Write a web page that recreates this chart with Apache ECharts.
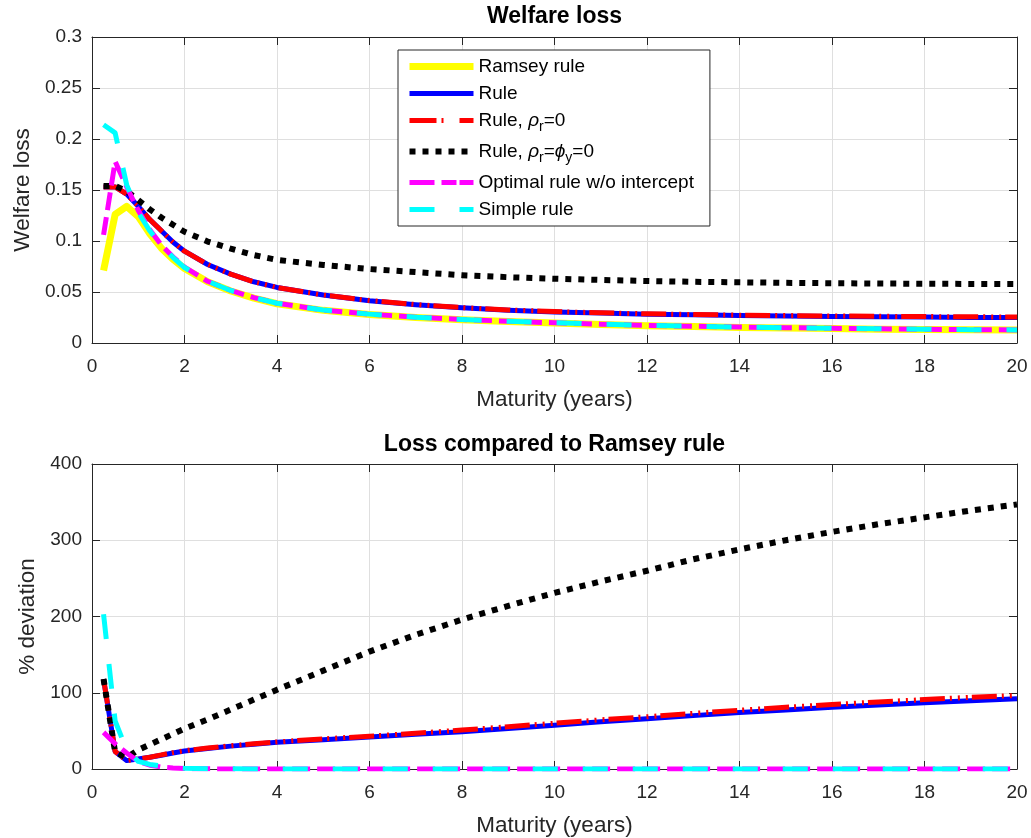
<!DOCTYPE html>
<html>
<head>
<meta charset="utf-8">
<script src="https://cdn.jsdelivr.net/npm/echarts@6/dist/echarts.min.js"></script>
<style>
html,body{margin:0;padding:0;background:#fff;}
#chart{width:1031px;height:838px;}
</style>
</head>
<body>
<div id="chart"></div>
<script>
// ---------- data ----------
const maturity = [0.25,0.5,0.75,1,1.25,1.5,1.75,2,2.5,3,3.5,4,5,6,7,8,9,10,11,12,13,14,15,16,17,18,19,20];

// Welfare loss (top panel)
const lossRamsey   = [0.071,0.126,0.134,0.124,0.107,0.093,0.082,0.073,0.060,0.051,0.044,0.0385,0.032,0.028,0.0250,0.0228,0.0210,0.0195,0.0182,0.0170,0.0161,0.0153,0.0147,0.0141,0.0136,0.0132,0.0130,0.0128];
const lossRule     = [0.153,0.153,0.146,0.134,0.121,0.110,0.099,0.090,0.077,0.0675,0.060,0.0545,0.0470,0.0415,0.0375,0.0345,0.0322,0.0305,0.0293,0.0283,0.0276,0.0270,0.0265,0.0261,0.0257,0.0254,0.0251,0.0249];
const lossRuleRho0 = [0.153,0.153,0.146,0.134,0.121,0.110,0.099,0.090,0.077,0.0675,0.060,0.0545,0.0470,0.0416,0.0377,0.0347,0.0324,0.0308,0.0296,0.0286,0.0279,0.0273,0.0269,0.0265,0.0262,0.0259,0.0257,0.0255];
const lossRuleRhoPhi0 = [0.154,0.154,0.149,0.140,0.131,0.123,0.116,0.109,0.0995,0.0925,0.0862,0.0815,0.0765,0.0725,0.0695,0.0665,0.0645,0.0630,0.0618,0.0608,0.0600,0.0595,0.0590,0.0586,0.0583,0.0581,0.0579,0.0578];
const lossOptNoInt = [0.106,0.178,0.153,0.130,0.111,0.096,0.0845,0.0745,0.0605,0.0515,0.0445,0.0390,0.0323,0.0283,0.0253,0.0231,0.0213,0.0198,0.0185,0.0173,0.0164,0.0156,0.0150,0.0144,0.0139,0.0135,0.0131,0.0128];
const lossSimple   = [0.214,0.206,0.155,0.128,0.110,0.095,0.084,0.074,0.0605,0.0515,0.0445,0.0390,0.0323,0.0283,0.0253,0.0231,0.0213,0.0198,0.0185,0.0173,0.0164,0.0156,0.0150,0.0144,0.0139,0.0135,0.0131,0.0128];

// % deviation from Ramsey (bottom panel)
const devRule        = [118,23,11,13,15.5,18,21,23.5,27,30,32.5,35,38.5,42,45.5,49,53,57.5,62,66,70,74,77.5,81,84,87,89.5,92];
const devRuleRho0    = [118,23,11,13,15.5,18.5,21.5,24,27.5,30.5,33,35.5,39.5,43,47,51,55.5,60,64.5,68.5,73,77,81,84.5,88,91,94,96.5];
const devRuleRhoPhi0 = [118,22,15,25,32,39,46,53,65,78,91,104,129,154,176,196,214,231,246,260,275,288,300,311,321,330,339,347];
const devOptNoInt    = [48,33,21,10,5,2.5,1.2,0.6,0.2,0.1,0,0,0,0,0,0,0,0,0,0,0,0,0,0,0,0,0,0];
const devSimple      = [203,63,25,10,6,4,2,1,0.4,0.2,0,0,0,0,0,0,0,0,0,0,0,0,0,0,0,0,0,0];

const topTicks = {min:0, max:0.3, interval:0.05};
const botTicks = {min:0, max:400, interval:100};
const xTicks   = {min:0, max:20, interval:2};

const names = ['Ramsey rule','Rule','Rule, rho_r=0','Rule, rho_r=phi_y=0','Optimal rule w/o intercept','Simple rule'];

// ---------- styles ----------
const FONT = 'Liberation Sans, Arial, Helvetica, sans-serif';
const AX = '#262626';
const GRID = '#dfdfdf';
const TICKFS = 19;
const NAMEFS = 22.5;
const styles = [
  {color:'#ffff00', width:7, type:'solid', legendType:'solid'},
  {color:'#0000ff', width:5, type:'solid', legendType:'solid'},
  {color:'#ff0000', width:5, type:[25,5,2,6,2,6,2,4], legendType:[27,5,2,16]},
  {color:'#000000', width:6, type:[6,7], legendType:[6,7]},
  {color:'#ff00ff', width:5, type:[18,7], legendType:[25,7,15,3,14,0]},
  {color:'#00ffff', width:5, type:[25,25], legendType:[25,25]}
];

function pairs(ys){ return maturity.map((x,i)=>[x, ys[i]]); }

function mkSeries(name, idx, ys, axisIdx){
  const s = styles[idx];
  return {
    type:'line', name:name, xAxisIndex:axisIdx, yAxisIndex:axisIdx,
    data:pairs(ys), showSymbol:false, symbol:'none', smooth:false,
    animation:false, clip:true,
    lineStyle:{color:s.color, width:s.width, type:s.type, cap:'butt', join:'round'},
    itemStyle:{color:s.color},
    emphasis:{disabled:true}
  };
}

function mainX(gridIndex){
  return {
    type:'value', gridIndex:gridIndex, position:'bottom', ...xTicks,
    name:'Maturity (years)', nameLocation:'middle', nameGap:45,
    nameTextStyle:{fontSize:NAMEFS, fontFamily:FONT, color:AX},
    axisLine:{show:true, onZero:false, lineStyle:{color:AX, width:1}},
    axisTick:{show:true, inside:true, length:8, lineStyle:{color:AX}},
    axisLabel:{show:true, fontSize:TICKFS, fontFamily:FONT, color:AX, margin:14},
    splitLine:{show:true, lineStyle:{color:GRID, width:1}}
  };
}
function mirrorX(gridIndex){
  return {
    type:'value', gridIndex:gridIndex, position:'top', ...xTicks,
    axisLine:{show:true, onZero:false, lineStyle:{color:AX, width:1}},
    axisTick:{show:true, inside:true, length:8, lineStyle:{color:AX}},
    axisLabel:{show:false}, splitLine:{show:false}
  };
}
function mainY(gridIndex, ticks, name, gap){
  return {
    type:'value', gridIndex:gridIndex, position:'left', ...ticks,
    name:name, nameLocation:'middle', nameGap:gap,
    nameTextStyle:{fontSize:NAMEFS, fontFamily:FONT, color:AX},
    axisLine:{show:true, onZero:false, lineStyle:{color:AX, width:1}},
    axisTick:{show:true, inside:true, length:8, lineStyle:{color:AX}},
    axisLabel:{show:true, fontSize:TICKFS, fontFamily:FONT, color:AX, margin:10},
    splitLine:{show:true, lineStyle:{color:GRID, width:1}}
  };
}
function mirrorY(gridIndex, ticks){
  return {
    type:'value', gridIndex:gridIndex, position:'right', ...ticks,
    axisLine:{show:true, onZero:false, lineStyle:{color:AX, width:1}},
    axisTick:{show:true, inside:true, length:8, lineStyle:{color:AX}},
    axisLabel:{show:false}, splitLine:{show:false}
  };
}

const legendText = {
  'Ramsey rule':'Ramsey rule',
  'Rule':'Rule',
  'Rule, rho_r=0':'Rule, {g|ρ}{s|r}=0',
  'Rule, rho_r=phi_y=0':'Rule, {g|ρ}{s|r}={g|ϕ}{s|y}=0',
  'Optimal rule w/o intercept':'Optimal rule w/o intercept',
  'Simple rule':'Simple rule'
};

const legendData = names.map((n,i)=>({
  name:n,
  itemStyle:{opacity:0, borderWidth:0},
  lineStyle:{color:styles[i].color, width:styles[i].width, type:styles[i].legendType, cap:'butt', opacity:1}
}));

const chart = echarts.init(document.getElementById('chart'), null, {renderer:'canvas'});
chart.setOption({
  animation:false,
  backgroundColor:'#ffffff',
  grid:[
    {left:92, right:14, top:37, height:306},
    {left:92, right:14, top:464, height:305}
  ],
  xAxis:[mainX(0), mirrorX(0), mainX(1), mirrorX(1)],
  yAxis:[
    mainY(0, topTicks, 'Welfare loss', 51), mirrorY(0, topTicks),
    mainY(1, botTicks, '% deviation', 49), mirrorY(1, botTicks)
  ],
  legend:{
    show:true, orient:'vertical', left:398, top:50,
    data:legendData, selectedMode:false,
    itemWidth:64, itemHeight:14, itemGap:8,
    padding:[7,16,7,8],
    backgroundColor:'#ffffff', borderColor:AX, borderWidth:1,
    formatter:function(n){ return legendText[n]; },
    textStyle:{fontSize:19, fontFamily:FONT, color:'#000',
      rich:{
        g:{fontSize:19, fontFamily:FONT, fontStyle:'italic', color:'#000'},
        s:{fontSize:14, fontFamily:FONT, color:'#000', padding:[13,0,0,0]}
      }
    }
  },
  graphic:[
    {type:'text', x:554.5, y:17, style:{text:'Welfare loss', fontSize:23, fontWeight:'bold', fontFamily:FONT, fill:'#000', align:'center', verticalAlign:'middle'}},
    {type:'text', x:554.5, y:445, style:{text:'Loss compared to Ramsey rule', fontSize:23, fontWeight:'bold', fontFamily:FONT, fill:'#000', align:'center', verticalAlign:'middle'}}
  ],
  series:[
    mkSeries(names[0],0,lossRamsey,0),
    mkSeries(names[1],1,lossRule,0),
    mkSeries(names[2],2,lossRuleRho0,0),
    mkSeries(names[3],3,lossRuleRhoPhi0,0),
    mkSeries(names[4],4,lossOptNoInt,0),
    mkSeries(names[5],5,lossSimple,0),
    Object.assign(mkSeries(names[1],1,devRule,0),{xAxisIndex:2,yAxisIndex:2}),
    Object.assign(mkSeries(names[2],2,devRuleRho0,0),{xAxisIndex:2,yAxisIndex:2}),
    Object.assign(mkSeries(names[3],3,devRuleRhoPhi0,0),{xAxisIndex:2,yAxisIndex:2}),
    Object.assign(mkSeries(names[4],4,devOptNoInt,0),{xAxisIndex:2,yAxisIndex:2}),
    Object.assign(mkSeries(names[5],5,devSimple,0),{xAxisIndex:2,yAxisIndex:2})
  ]
});
</script>
</body>
</html>
